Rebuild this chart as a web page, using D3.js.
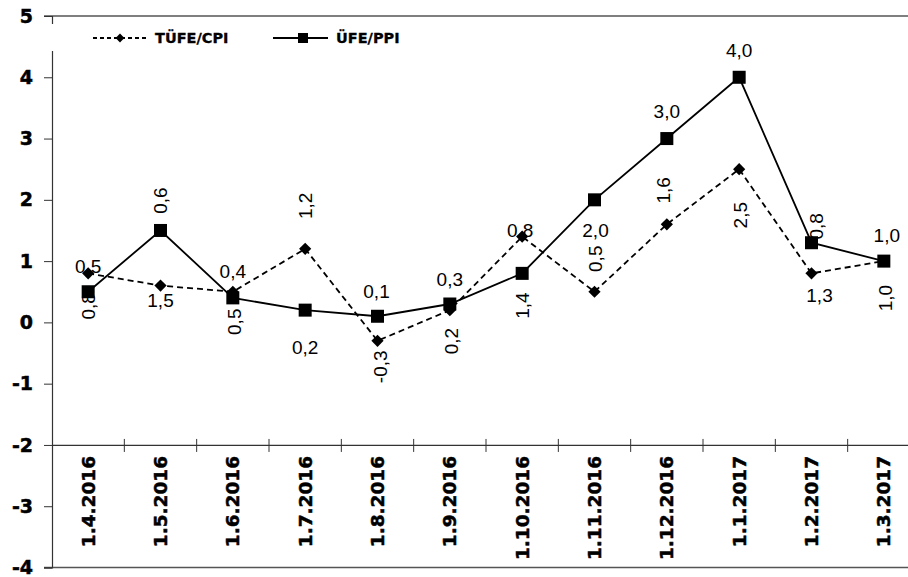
<!DOCTYPE html>
<html>
<head>
<meta charset="utf-8">
<script src="https://cdn.jsdelivr.net/npm/d3@7"></script>
<style>
  body { margin: 0; background: #fff; }
  svg { display: block; }
</style>
</head>
<body>
<div id="chart"></div>
<script>
// data
const dates = ["1.4.2016", "1.5.2016", "1.6.2016", "1.7.2016", "1.8.2016", "1.9.2016",
  "1.10.2016", "1.11.2016", "1.12.2016", "1.1.2017", "1.2.2017", "1.3.2017"];
const cpi = [0.8, 0.6, 0.5, 1.2, -0.3, 0.2, 1.4, 0.5, 1.6, 2.5, 0.8, 1.0];   // TÜFE/CPI
const ppi = [0.5, 1.5, 0.4, 0.2, 0.1, 0.3, 0.8, 2.0, 3.0, 4.0, 1.3, 1.0];    // ÜFE/PPI
const yTicks = [-4, -3, -2, -1, 0, 1, 2, 3, 4, 5];

// label nudges (px) - the labels were dragged around by hand in the original
const cpiLabelShift = [[0, 33], [0, -85], [2, 30], [0, -43], [3, 26], [2, 31],
  [0, 69], [1, -33], [-3, -34], [1, 46], [5, -47], [2, 37]];
const ppiLabelShift = [[0, -25], [0, 70], [0, -26], [0, 37], [-1, -25], [0, -25],
  [-2, -43], [1, 31], [0, -27], [0, -27], [8, 53], [3, -26]];

const width = 908, height = 577;
const plotLeft = 52, plotRight = 920, plotTop = 16, plotBottom = 567.5;

const svg = d3.select("#chart").append("svg")
  .attr("width", width)
  .attr("height", height);

const x = d3.scaleBand().domain(dates).range([plotLeft, plotRight]);
const y = d3.scaleLinear().domain([-4, 5]).range([plotBottom, plotTop]);

const locale = d3.formatLocale({decimal: ",", thousands: ".", grouping: [3], currency: ["", ""], minus: "-"});
const fmt = locale.format(".1f");

// top border and bottom line
svg.append("line")
  .attr("x1", plotLeft - 8).attr("x2", width)
  .attr("y1", y(5)).attr("y2", y(5))
  .attr("stroke", "#555").attr("stroke-width", 1.5);
svg.append("line")
  .attr("x1", plotLeft - 8).attr("x2", width)
  .attr("y1", y(-4)).attr("y2", y(-4))
  .attr("stroke", "#555").attr("stroke-width", 1.5);

// y axis
const yAxis = svg.append("g")
  .attr("transform", `translate(${plotLeft},0)`)
  .call(d3.axisLeft(y).tickValues(yTicks).tickSize(8).tickPadding(11).tickFormat(locale.format("d")));
yAxis.select(".domain").attr("stroke", "#333").attr("stroke-width", 1.2);
yAxis.selectAll(".tick line").attr("stroke", "#333");
yAxis.selectAll("text")
  .attr("font-family", "DejaVu Sans, Verdana, sans-serif")
  .attr("font-weight", "bold")
  .attr("font-size", 19)
  .attr("fill", "#000")
  .attr("stroke", "#000")
  .attr("stroke-width", 0.5);

// x axis sits at -2
const xAxis = svg.append("g")
  .attr("transform", `translate(0,${y(-2)})`)
  .call(d3.axisBottom(x).tickSize(0).tickSizeOuter(0));
xAxis.select(".domain").attr("stroke", "#333").attr("stroke-width", 1.2);
xAxis.selectAll(".tick line").remove();
xAxis.selectAll("text")
  .attr("font-family", "DejaVu Sans, Verdana, sans-serif")
  .attr("font-weight", "bold")
  .attr("font-size", 18.5)
  .attr("fill", "#000")
  .attr("stroke", "#000")
  .attr("stroke-width", 0.5)
  .attr("text-anchor", "end")
  .attr("dy", null)
  .attr("y", 0)
  .attr("dominant-baseline", "central")
  .attr("transform", "translate(0,11) rotate(-90)");

// category divider ticks crossing the axis
svg.append("g").selectAll("line")
  .data(dates.slice(1))
  .join("line")
  .attr("x1", d => x(d)).attr("x2", d => x(d))
  .attr("y1", y(-2) - 6).attr("y2", y(-2) + 7)
  .attr("stroke", "#333");

// lines
const cx = i => x(dates[i]) + x.bandwidth() / 2;
const line = d3.line().x((d, i) => cx(i)).y(d => y(d));

svg.append("path")
  .datum(cpi)
  .attr("d", line)
  .attr("fill", "none")
  .attr("stroke", "#000")
  .attr("stroke-width", 1.8)
  .attr("stroke-dasharray", "6,4");

svg.append("path")
  .datum(ppi)
  .attr("d", line)
  .attr("fill", "none")
  .attr("stroke", "#000")
  .attr("stroke-width", 1.8);

// markers
const diamond = d3.symbol().type(d3.symbolDiamond2).size(95);
svg.append("g").selectAll("path")
  .data(cpi)
  .join("path")
  .attr("d", diamond)
  .attr("transform", (d, i) => `translate(${cx(i)},${y(d)})`)
  .attr("fill", "#000");

svg.append("g").selectAll("rect")
  .data(ppi)
  .join("rect")
  .attr("x", (d, i) => cx(i) - 6.5)
  .attr("y", d => y(d) - 6.5)
  .attr("width", 13)
  .attr("height", 13)
  .attr("fill", "#000");

// data labels
svg.append("g").selectAll("text")
  .data(cpi)
  .join("text")
  .attr("transform", (d, i) => `translate(${cx(i) + cpiLabelShift[i][0]},${y(d) + cpiLabelShift[i][1]}) rotate(-90)`)
  .attr("text-anchor", "middle")
  .attr("dominant-baseline", "central")
  .attr("font-family", "Liberation Sans, Arial, sans-serif")
  .attr("font-size", 19)
  .text(d => fmt(d));

svg.append("g").selectAll("text")
  .data(ppi)
  .join("text")
  .attr("x", (d, i) => cx(i) + ppiLabelShift[i][0])
  .attr("y", (d, i) => y(d) + ppiLabelShift[i][1])
  .attr("text-anchor", "middle")
  .attr("dominant-baseline", "central")
  .attr("font-family", "Liberation Sans, Arial, sans-serif")
  .attr("font-size", 19)
  .text(d => fmt(d));

// legend
const legend = svg.append("g");
legend.append("rect")
  .attr("x", 47).attr("y", 24).attr("width", 390).attr("height", 27)
  .attr("fill", "#fff");

const lg1 = legend.append("g").attr("transform", "translate(93,38)");
lg1.append("line").attr("x1", 0).attr("x2", 55)
  .attr("stroke", "#000").attr("stroke-width", 1.8).attr("stroke-dasharray", "4,3");
lg1.append("path").attr("d", d3.symbol().type(d3.symbolDiamond2).size(50))
  .attr("transform", "translate(27,0)");
lg1.append("text").attr("x", 62).attr("dominant-baseline", "central")
  .attr("font-family", "DejaVu Sans, Verdana, sans-serif")
  .attr("font-weight", "bold").attr("font-size", 14.5)
  .attr("stroke", "#000").attr("stroke-width", 0.3)
  .text("TÜFE/CPI");

const lg2 = legend.append("g").attr("transform", "translate(273,38)");
lg2.append("line").attr("x1", 0).attr("x2", 55)
  .attr("stroke", "#000").attr("stroke-width", 1.8);
lg2.append("rect").attr("x", 25).attr("y", -5).attr("width", 10).attr("height", 10);
lg2.append("text").attr("x", 63).attr("dominant-baseline", "central")
  .attr("font-family", "DejaVu Sans, Verdana, sans-serif")
  .attr("font-weight", "bold").attr("font-size", 14.5)
  .attr("stroke", "#000").attr("stroke-width", 0.3)
  .text("ÜFE/PPI");
</script>
</body>
</html>
